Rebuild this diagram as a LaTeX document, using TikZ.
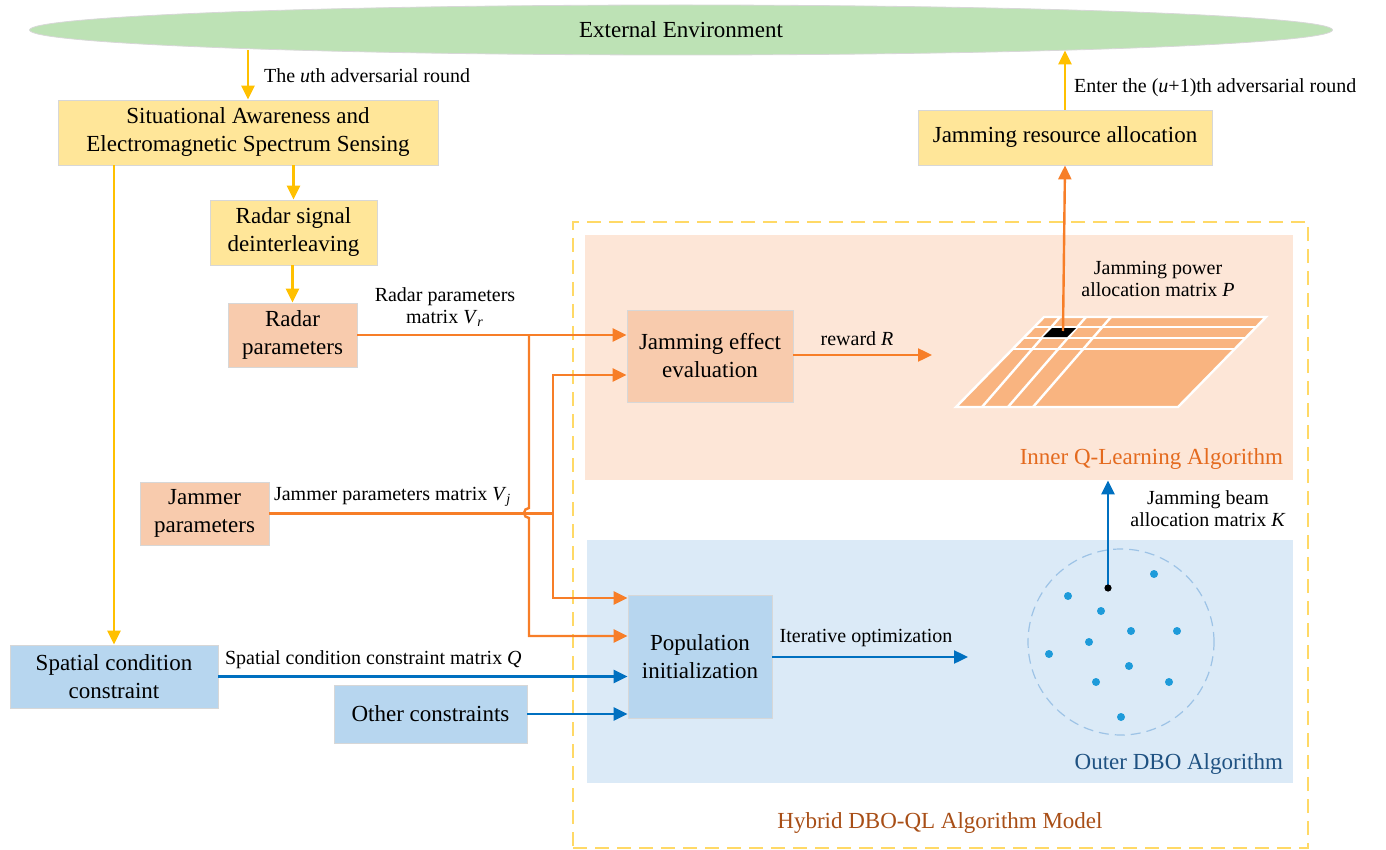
\documentclass[tikz,border=0pt]{standalone}
\usepackage{fontspec}
\setmainfont{Liberation Serif}
\usepackage{tikz}
\usetikzlibrary{shapes.geometric,arrows.meta,positioning,calc}

\definecolor{envgreen}{RGB}{189,226,181}
\definecolor{boxyellow}{RGB}{255,230,153}
\definecolor{boxsalmon}{RGB}{248,203,173}
\definecolor{boxblue}{RGB}{183,214,239}
\definecolor{boxedge}{RGB}{215,215,215}
\definecolor{innerfill}{RGB}{253,230,215}
\definecolor{outerfill}{RGB}{219,234,247}
\definecolor{gridorange}{RGB}{249,180,128}
\definecolor{lineorange}{RGB}{247,126,40}
\definecolor{lineyellow}{RGB}{255,192,0}
\definecolor{lineblue}{RGB}{0,112,192}
\definecolor{dashyellow}{RGB}{255,217,102}
\definecolor{dashblue}{RGB}{157,195,230}
\definecolor{dotblue}{RGB}{30,155,218}
\definecolor{innertext}{RGB}{228,106,30}
\definecolor{outertext}{RGB}{31,82,130}
\definecolor{hybridbrown}{RGB}{168,78,22}

\begin{document}
\begin{tikzpicture}[x=0.5pt,y=-0.5pt,
    boxfont/.style={font=\fontsize{11.5}{14}\selectfont},
    labelfont/.style={font=\fontsize{10}{11}\selectfont, align=center},
    yellowbox/.style={boxfont, draw=boxedge, fill=boxyellow, align=center, inner sep=0pt},
    salmonbox/.style={yellowbox, fill=boxsalmon},
    bluebox/.style={yellowbox, fill=boxblue},
    yline/.style={draw=lineyellow, line width=1.2pt},
    oline/.style={draw=lineorange, line width=1.2pt},
    bline/.style={draw=lineblue, line width=1.2pt},
    yarrow/.style={yline, -{Triangle[length=7pt,width=6.5pt]}},
    oarrow/.style={oline, -{Triangle[length=7pt,width=6.5pt]}},
    barrow/.style={bline, -{Triangle[length=7pt,width=6.5pt]}},
    region/.style={inner sep=0pt, draw=none}]
\useasboundingbox (0,0) rectangle (1386,850);

% regions
\node[region, draw=dashyellow, line width=1pt, dash pattern=on 7pt off 4pt,
      minimum width=367.5pt, minimum height=313pt] (hybrid) at (940.5,535) {};
\node[region, fill=innerfill, minimum width=354pt, minimum height=122.5pt] (inner) at (939,357.5) {};
\node[region, fill=outerfill, minimum width=353pt, minimum height=121.5pt] (outer) at (940,661.5) {};
\node[boxfont, text=innertext, anchor=east] (innerlabel) at (1290,459) {Inner Q-Learning Algorithm};
\node[boxfont, text=outertext, anchor=east] (outerlabel) at (1290,764) {Outer DBO Algorithm};
\node[boxfont, text=hybridbrown] (hybridlabel) at (940,823) {Hybrid DBO-QL Algorithm Model};

% environment and boxes
\node[ellipse, draw=boxedge, fill=envgreen, inner sep=0pt, boxfont,
      minimum width=651.5pt, minimum height=25pt] (env) at (681,30) {External Environment};
\node[yellowbox, minimum width=190pt, minimum height=32.5pt] (sense) at (248,132.5)
  {Situational Awareness and\\Electromagnetic Spectrum Sensing};
\node[yellowbox, minimum width=83.5pt, minimum height=32.5pt] (deint) at (293.5,232.5)
  {Radar signal\\deinterleaving};
\node[salmonbox, minimum width=64.5pt, minimum height=32pt] (radar) at (292.5,335)
  {Radar\\parameters};
\node[salmonbox, minimum width=64.5pt, minimum height=31.5pt] (jammer) at (204.5,513.5)
  {Jammer\\parameters};
\node[bluebox, minimum width=104pt, minimum height=31.5pt] (spatial) at (114,676.5)
  {Spatial condition\\constraint};
\node[bluebox, minimum width=96.5pt, minimum height=29pt] (other) at (430.5,714)
  {Other constraints};
\node[yellowbox, minimum width=147pt, minimum height=27.5pt] (alloc) at (1065,137.5)
  {Jamming resource allocation};
\node[salmonbox, minimum width=83pt, minimum height=46pt] (effect) at (710,356)
  {Jamming effect\\evaluation};
\node[bluebox, minimum width=72pt, minimum height=61.5pt] (popinit) at (700,656.5)
  {Population\\initialization};

% power allocation grid
\fill[gridorange] (956,407) -- (1178,407) -- (1266,317) -- (1044,317) -- cycle;
\begin{scope}[draw=white, line width=1.2pt]
  \draw (956,407) -- (1178,407) -- (1266,317) -- (1044,317) -- cycle;
  \draw (1034,327) -- (1256,327);
  \draw (1024,338) -- (1246,338);
  \draw (1013,349) -- (1235,349);
  \draw (982,407) -- (1060,317);
  \draw (1008,407) -- (1086,317);
  \draw (1033,407) -- (1111,317);
\end{scope}
\fill[black] (1052,328) -- (1076,328) -- (1067,337) -- (1043,337) -- cycle;
\coordinate (cell) at (1063,331);

% beetle population
\node[circle, draw=dashblue, line width=0.6pt, dash pattern=on 5pt off 3pt,
      minimum size=93pt, inner sep=0pt] (swarm) at (1121,642) {};
\foreach \px/\py in {1154/574, 1068/596, 1101/611, 1131/631, 1177/631, 1089/642,
                     1049/654, 1129/666, 1096/682, 1169/682, 1121/717}
  \fill[dotblue] (\px,\py) circle (2pt);
\coordinate (best) at (1108,588);

% yellow connectors
\draw[yarrow] (sense.north |- env.-177.6) -- (sense.north);
\draw[yarrow] (alloc.north) -- (alloc.north |- env.-3);
\draw[yarrow] (deint.north |- sense.south) -- (deint.north);
\draw[yarrow] (radar.north |- deint.south) -- (radar.north);
\draw[yarrow] (spatial.north |- sense.south) -- (spatial.north);
\node[labelfont, anchor=west] (roundu) at (257,76) {The \textit{u}th adversarial round};
\node[labelfont, anchor=west] (roundnext) at (1067,88) {Enter the (\textit{u}+1)th adversarial round};

% orange connectors
\coordinate (vr) at (529,335);
\coordinate (vj) at (553,513.5);
\draw[oarrow] (radar.east) -- (radar.east -| effect.west);
\draw[oarrow] (vr) -- (529,508) arc[start angle=90, end angle=270, radius=2.5pt]
  -- (529,636) -- (popinit.west |- 0,636);
\draw[oline] (jammer.east) -- (vj);
\draw[oarrow] (vj) |- (effect.west |- 0,375);
\draw[oarrow] (vj) |- (popinit.west |- 0,598);
\coordinate (rwd) at (932,355);
\draw[oarrow] (effect.east |- rwd) -- (rwd);
\draw[oarrow] (cell) -- (alloc.south);
\node[labelfont] (vrlabel) at (445,307) {Radar parameters\\matrix \textit{V}\textsubscript{\textit{r}}};
\node[labelfont, anchor=west] (vjlabel) at (267,497) {Jammer parameters matrix \textit{V}\textsubscript{\textit{j}}};
\node[labelfont] (rlabel) at (857,339) {reward \textit{R}};
\node[labelfont] (plabel) at (1158,279) {Jamming power\\allocation matrix \textit{P}};

% blue connectors
\draw[barrow] (spatial.east) -- (spatial.east -| popinit.west);
\draw[barrow] (other.east) -- (other.east -| popinit.west);
\coordinate (itr) at (968,657);
\draw[barrow] (popinit.east |- itr) -- (itr);
\draw[barrow] (best) -- (best |- inner.south);
\fill[black] (best) circle (1.8pt);
\node[labelfont, anchor=west] (qlabel) at (218,660) {Spatial condition constraint matrix \textit{Q}};
\node[labelfont] (itlabel) at (866,638) {Iterative optimization};
\node[labelfont] (klabel) at (1208,509) {Jamming beam\\allocation matrix \textit{K}};
\end{tikzpicture}
\end{document}
